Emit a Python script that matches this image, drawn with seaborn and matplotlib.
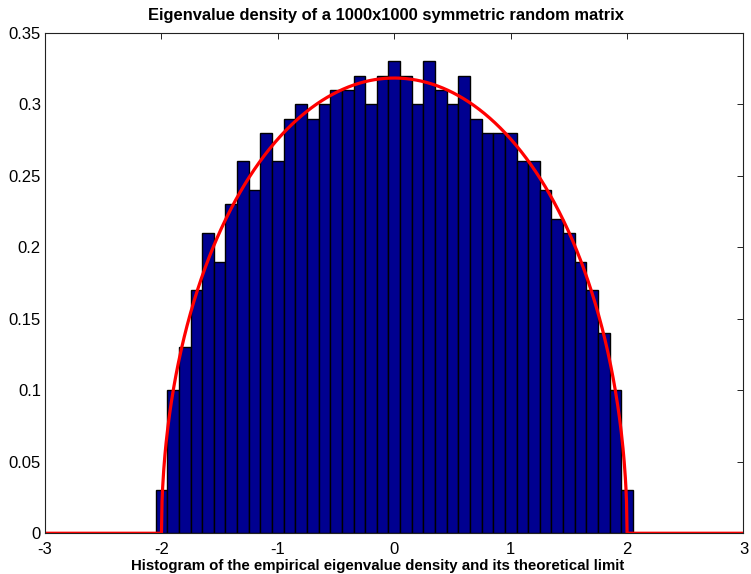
import numpy as np
import pandas as pd
import matplotlib
matplotlib.use("Agg")
import matplotlib.pyplot as plt
import seaborn as sns

# bin centres (width 0.1) and empirical density
bin_centers = np.round(np.arange(-2.0, 2.01, 0.1), 2)
density = [0.03, 0.10, 0.13, 0.17, 0.21, 0.19, 0.23, 0.26, 0.24, 0.28,
           0.26, 0.29, 0.30, 0.29, 0.30, 0.31, 0.31, 0.32, 0.30, 0.32,
           0.33,
           0.32, 0.30, 0.33, 0.31, 0.30, 0.32, 0.29, 0.28, 0.28, 0.28,
           0.26, 0.26, 0.24, 0.22, 0.21, 0.19, 0.17, 0.14, 0.10, 0.03]
bin_width = 0.1

# theoretical limit: Wigner semicircle law on [-2, 2]
x_theory = np.linspace(-3, 3, 1201)
y_theory = np.where(np.abs(x_theory) <= 2,
                    np.sqrt(np.clip(4 - x_theory**2, 0, None)) / (2 * np.pi), 0.0)

hist_df = pd.DataFrame({"x": bin_centers, "density": density})
curve_df = pd.DataFrame({"x": x_theory, "y": y_theory})

sns.set_style("white")
plt.rcParams["font.family"] = ["Liberation Sans", "DejaVu Sans"]
plt.rcParams["text.color"] = "black"
plt.rcParams["axes.labelcolor"] = "black"

fig = plt.figure(figsize=(7.51, 5.74), dpi=100)
ax = fig.add_axes([0.060, 0.071, 0.930, 0.872])

sns.histplot(data=hist_df, x="x", weights="density",
             binwidth=bin_width, binrange=(-2.05, 2.05),
             color="#000090", edgecolor="black", linewidth=1.0, alpha=1.0, ax=ax)
sns.lineplot(data=curve_df, x="x", y="y", color="#ff0000", linewidth=2.3, ax=ax)

ax.set_xlim(-3, 3)
ax.set_ylim(0, 0.35)
ax.set_xticks(np.arange(-3, 4, 1))
ax.set_yticks(np.arange(0, 0.351, 0.05))
ax.set_xticklabels([str(v) for v in range(-3, 4)])
ax.set_yticklabels(["0", "0.05", "0.1", "0.15", "0.2", "0.25", "0.3", "0.35"])
ax.tick_params(direction="in", length=4, width=0.6, labelsize=12, colors="black",
               top=True, right=True, pad=3)
ax.tick_params(axis="x", pad=6)
for s in ax.spines.values():
    s.set_color("#222222")
    s.set_linewidth(0.8)

ax.set_ylabel("")
ax.set_xlabel("Histogram of the empirical eigenvalue density and its theoretical limit",
              fontsize=10.8, fontweight="bold", labelpad=2, color="black")
ax.xaxis.label.set_x(0.476)
ax.set_title("Eigenvalue density of a 1000x1000 symmetric random matrix",
             fontsize=11.9, fontweight="bold", pad=9, x=0.488, color="black")

fig.savefig("out.png", dpi=100, facecolor="white")
plt.close(fig)
